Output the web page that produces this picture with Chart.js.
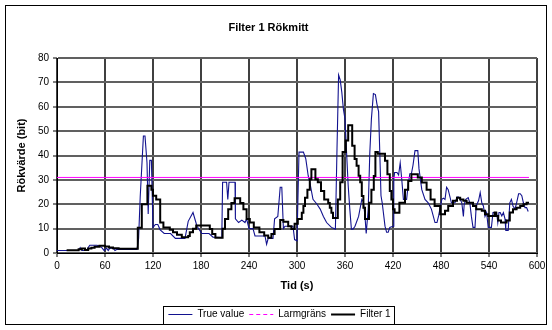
<!DOCTYPE html>
<html>
<head>
<meta charset="utf-8">
<script src="https://cdn.jsdelivr.net/npm/chart.js@4"></script>
<style>
html,body{margin:0;padding:0;background:#fff;}
#wrap{width:552px;height:330px;position:relative;}
</style>
</head>
<body>
<div id="wrap"><canvas id="c" width="552" height="330"></canvas></div>
<script>
// ---- data ----
const chartTitle = 'Filter 1 Rökmitt';
const xTitle = 'Tid (s)';
const yTitle = 'Rökvärde (bit)';
const seriesNames = ['True value', 'Larmgräns', 'Filter 1'];

const trueTime = [0,27,29,31,37,39,41,50,52,56,59,62,64,66,70,72.5,75,100,102,104,108,110,112.5,114,116,118,120,123,126,129,134,142,148,160,164,170,175,181,190,195,206,207,212,213.5,215,222.5,223,227,231,235,237,240,245,247.5,260,262,264,270,272,276,279,281,283,285,295,297,300,302.5,308,311,314,316,320,325,329,333,337,343,348,350,352,354,356,358,360,362,364,366,368,370,372.5,377,381,383,385,386.5,389,391,393,395.5,398,400,402,403.5,405,406.5,408,410,412,414,416,420,421,422,425,427,429,431,433,437,439,441,443,445,447.5,451,452.5,456,460,464,468,472.5,475,477,481,483,485,487,489,493,497.5,500,502,504,506,508,509,511,514,516,518,520,522.5,524,527,529,531,533,535,537,539,543,545,549.5,551,552.5,554,556,558,560,561,564,566,568,570,572.5,574.5,577,579,581,583,585,587,589];
const trueValue = [1,1,2.2,1,1,2.2,3.2,3.2,3,2.2,1,2,1,2,2,1,1.5,1.5,6,23,48,48,37,16,38,38,10.5,11.7,11.7,9.5,8,8,6,6,13,16.6,11,8,8,6.5,6.3,29,29,22,29,29,14,12.5,13.5,12.5,14,10,10,7,7,3.6,6,6,14,15,27,27,10,11,11,5.5,5,41.4,41.4,38.6,31.7,29,22,20,18,15,12.5,10.5,9.8,42.8,73,71,66,59,55,41,27.6,18,9.8,9.8,11,15,22,21,15,8,18,41,55,65.4,65,61,58,41,23.5,20.6,16.5,11,8.5,8.5,10.5,11,30.3,33,33,32,37,30,22,22,28,32.5,32.5,36,42,42,34.5,26,22,20.6,18,12.5,12.5,15.2,22,22.5,22,27,26,20.6,20.6,23,23,22,20.6,15,20,22,22.7,20.6,15,10.5,10.5,19.3,21.5,24.8,20.6,19.3,15,16.6,10.5,10.5,16.6,16.6,12.5,16.6,16.6,15.2,16.6,14,9.3,9.3,20.6,22,19.3,18,20.6,24.3,24.3,23.5,20.6,18.6,18.6,17];

const filterTime = [12,27,31,35,39,43,47,53,60,65,70,77,101,106,113,118,120,124,129,133,141,145,150,156,164,166,170,174,191,194,198,207,210,214,218,222,229,233,237,241,246,253,259,264,268,272,279,283,289,293,297,301,306,308,310,313,316,318,323,326,330,334,339,341,343,345,351,354,357,361,364,369,372,374.5,377,379,381,383,385,390,393,396,398,401,410,413,416,418,420,422,428,435,439,443,451,456,462,467,472,479,485,489,495,500,504,508,512,520,524,531,535,539,547,549,551.5,555,562,566,570,574.5,579,583,587,590];
const filterValue = [1.1,1.5,1.8,1.2,1.8,2.2,2.6,3,2.7,2.3,2,1.7,10.4,20,27.6,26,23.5,22,12.5,10.5,9.5,8.5,7.5,6.5,7,8.5,10,11.3,9.8,7.8,6.3,10,14,18,20.5,22.5,20.5,18,14,12.5,10.5,8.5,7.2,6.3,7.8,9.8,13.5,12.8,11,9.8,12,14,16.5,19.3,22.7,26,30.3,34.4,30.3,29,25.4,22,20.5,18.6,16.5,14.4,22,29,41.4,46.2,52.4,44,38.6,35.8,31.7,29,23.4,18.6,14,20.6,26,31.6,41.4,40.7,37.8,32.3,25.4,22,18,16.5,20.6,26,29.5,32.3,31,28.9,26,22,19.3,15.9,17.3,19.3,21.4,22.7,22,21.4,20.6,19.3,17.9,17.3,15.9,15.2,16.6,15.2,13.3,12.5,13.3,16.6,17.9,18.6,19.3,20,20.6,20.6];

const larmTime = [0, 590];
const larmValue = [31, 31];

const xMin = 0, xMax = 600, xStep = 60;
const yMin = 0, yMax = 80, yStep = 10;

// ---- build ----
const toXY = (xs, ys) => xs.map((x, i) => ({x: x, y: ys[i]}));
const FONT = "'Liberation Sans', Arial, sans-serif";

const framePlugin = {
  id: 'frame',
  afterLayout(chart) {
    // Excel centres the legend box slightly right of the full-width centre
    if (chart.legend) { chart.legend.left += 11; chart.legend.right += 11; }
  },
  afterDraw(chart) {
    const ctx = chart.ctx;
    ctx.save();
    ctx.strokeStyle = '#000';
    ctx.lineWidth = 1;
    ctx.setLineDash([]);
    ctx.strokeRect(5.5, 5.5, 541, 319);
    const hb = chart.legend && chart.legend.legendHitBoxes;
    if (hb && hb.length) {
      let l = Infinity, r = -Infinity, t = Infinity, b = -Infinity;
      hb.forEach(h => { l = Math.min(l, h.left); r = Math.max(r, h.left + h.width); t = Math.min(t, h.top); b = Math.max(b, h.top + h.height); });
      ctx.strokeRect(Math.round(l - 5) + 0.5, Math.round(t - 4) + 0.5, Math.round(r - l + 9), Math.round(b - t + 8));
    }
    ctx.restore();
  }
};

new Chart(document.getElementById('c'), {
  type: 'line',
  data: {
    datasets: [
      { label: seriesNames[0], data: toXY(trueTime, trueValue), borderColor: '#12128f', backgroundColor: '#12128f', borderWidth: 1.1, pointRadius: 0, tension: 0, fill: false, order: 2 },
      { label: seriesNames[1], data: toXY(larmTime, larmValue), borderColor: '#ff00ff', backgroundColor: '#ff00ff', borderWidth: 1, pointRadius: 0, tension: 0, fill: false, order: 1 },
      { label: seriesNames[2], data: toXY(filterTime, filterValue), borderColor: '#000000', backgroundColor: '#000000', borderWidth: 2, pointRadius: 0, stepped: true, fill: false, order: 0 }
    ]
  },
  options: {
    responsive: false,
    animation: false,
    devicePixelRatio: 1,
    layout: { padding: { top: 0, left: 0, right: 15, bottom: 0.5 } },
    plugins: {
      title: {
        display: true, text: chartTitle, color: '#000',
        font: { family: FONT, size: 11, weight: 'bold' },
        padding: { top: 21, bottom: 23.8 }
      },
      legend: {
        display: true, position: 'bottom',
        labels: {
          color: '#000', font: { family: FONT, size: 10 },
          usePointStyle: true, pointStyle: 'line', pointStyleWidth: 24, padding: 5,
          generateLabels(chart) {
            const items = Chart.defaults.plugins.legend.labels.generateLabels(chart);
            items.sort((a, b) => a.datasetIndex - b.datasetIndex);
            items.forEach(it => {
              it.pointStyle = 'line';
              it.lineDash = (it.datasetIndex === 1) ? [4, 3] : [];
            });
            return items;
          }
        }
      },
      tooltip: { enabled: false }
    },
    scales: {
      x: {
        type: 'linear', min: xMin, max: xMax,
        afterFit(scale) { scale.height = 51.5; },
        ticks: { stepSize: xStep, color: '#000', font: { family: FONT, size: 10 }, padding: 3, maxRotation: 0 },
        grid: { display: true, drawOnChartArea: true, color: '#404040', lineWidth: 2, drawTicks: true, tickLength: 4, tickColor: '#000', tickWidth: 1 },
        border: { color: '#000', width: 1 },
        title: { display: true, text: xTitle, color: '#000', font: { family: FONT, size: 11, weight: 'bold' }, padding: { top: 0, bottom: 12 } }
      },
      y: {
        min: yMin, max: yMax,
        afterFit(scale) { scale.width = 57; },
        ticks: { stepSize: yStep, color: '#000', font: { family: FONT, size: 10 }, padding: 4 },
        grid: { display: true, drawOnChartArea: true, color: '#606060', lineWidth: 2, drawTicks: true, tickLength: 4, tickColor: '#000', tickWidth: 1 },
        border: { color: '#000', width: 1 },
        title: { display: true, text: yTitle, color: '#000', font: { family: FONT, size: 11, weight: 'bold' }, padding: { top: 15.4, bottom: 0 } }
      }
    }
  },
  plugins: [framePlugin]
});
</script>
</body>
</html>
